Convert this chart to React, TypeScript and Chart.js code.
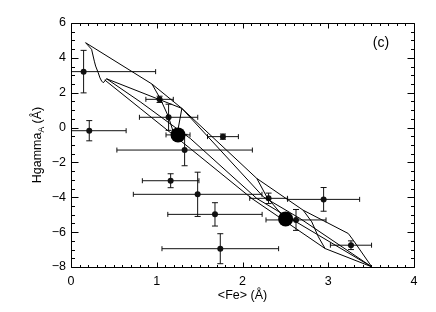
import React, { useEffect, useRef } from "react";
import { Chart, registerables } from "chart.js";

Chart.register(...registerables);

const FONT = "'Liberation Sans', Arial, Helvetica, sans-serif";

// axis ranges / tick labels
const xRange = [0, 4];
const yRange = [-8, 6];
const xMajorStep = 1;
const xMinorStep = 0.1;
const yMajorStep = 2;
const yMinorStep = 0.5;

// observed points with errors
const obsFe = [0.147, 0.213, 1.033, 1.138, 1.325, 1.772, 1.162, 1.477, 1.679, 1.741, 2.304, 2.946, 2.624, 3.265];
const obsFeErr = [0.84, 0.43, 0.16, 0.34, 0.79, 0.18, 0.33, 0.75, 0.55, 0.68, 0.22, 0.42, 0.35, 0.24];
const obsHg = [3.21, -0.18, 1.62, 0.59, -1.29, -0.52, -3.05, -3.83, -4.98, -6.95, -4.06, -4.12, -5.3, -6.75];
const obsHgErr = [1.22, 0.58, 0.18, 0.75, 0.9, 0.15, 0.4, 1.27, 0.67, 0.86, 0.3, 0.68, 0.6, 0.25];

// mean points (large dots)
const meanFe = [1.248, 2.503];
const meanHg = [-0.42, -5.24];
const meanFeErr = [0.14, 0.0];

// model grid lines
const trackUpper = [[0.17, 4.87], [0.944, 2.5], [1.293, 1.1], [2.167, -2.92], [2.707, -4.74], [3.234, -6.08], [3.293, -6.47], [3.507, -7.99]];
const youngAge = [[0.17, 4.87], [0.24, 4.49], [0.272, 3.81], [0.287, 3.53], [0.318, 3.14], [0.338, 2.85], [0.357, 2.67], [0.377, 2.57], [0.415, 2.8]];
const track2 = [[0.415, 2.8], [1.293, 1.1], [2.244, -3.98], [2.672, -5.22], [3.507, -7.99]];
const track3 = [[0.415, 2.8], [0.807, 1.48], [1.39, -0.62], [2.167, -4.07], [3.507, -7.99]];
const track4 = [[0.394, 2.73], [0.807, 1.1], [1.39, -1.2], [2.109, -4.07], [2.963, -6.94], [3.507, -7.99]];
const age2 = [[0.944, 2.5], [1.04, 1.67], [1.137, 0.62], [1.204, -0.43]];
const age3 = [[1.293, 1.1], [1.247, -0.14]];
const age4 = [[2.167, -2.92], [2.283, -3.98], [2.462, -5.02]];
const age5 = [[2.707, -4.74], [2.808, -5.41], [2.885, -6.27], [2.963, -6.94]];

const modelLines = [trackUpper, youngAge, track2, track3, track4, age2, age3, age4, age5];

const fmt = (v: number) => (v < 0 ? "\u2212" + Math.abs(v) : String(v));

const framePlugin = {
  id: "frame",
  beforeDatasetsDraw(chart: any) {
    const { ctx, chartArea: a, scales } = chart;
    const xs = scales.x, ys = scales.y;
    ctx.save();
    ctx.beginPath();
    ctx.rect(a.left, a.top, a.right - a.left, a.bottom - a.top);
    ctx.clip();
    ctx.strokeStyle = "#111";
    ctx.lineWidth = 1;
    const capX = 2.5, capY = 3;
    const bars = (fe: number[], hg: number[], fe_e: number[], hg_e: number[]) => {
      for (let i = 0; i < fe.length; i++) {
        const px = xs.getPixelForValue(fe[i]);
        const py = ys.getPixelForValue(hg[i]);
        if (fe_e[i] > 0) {
          const x1 = xs.getPixelForValue(fe[i] - fe_e[i]);
          const x2 = xs.getPixelForValue(fe[i] + fe_e[i]);
          ctx.beginPath();
          ctx.moveTo(x1, py); ctx.lineTo(x2, py);
          ctx.moveTo(x1, py - capX); ctx.lineTo(x1, py + capX);
          ctx.moveTo(x2, py - capX); ctx.lineTo(x2, py + capX);
          ctx.stroke();
        }
        if (hg_e[i] > 0) {
          const y1 = ys.getPixelForValue(hg[i] - hg_e[i]);
          const y2 = ys.getPixelForValue(hg[i] + hg_e[i]);
          ctx.beginPath();
          ctx.moveTo(px, y1); ctx.lineTo(px, y2);
          ctx.moveTo(px - capY, y1); ctx.lineTo(px + capY, y1);
          ctx.moveTo(px - capY, y2); ctx.lineTo(px + capY, y2);
          ctx.stroke();
        }
      }
    };
    bars(obsFe, obsHg, obsFeErr, obsHgErr);
    bars(meanFe, meanHg, meanFeErr, meanFe.map(() => 0));
    ctx.restore();
  },
  afterDraw(chart: any) {
    const { ctx, chartArea: a, scales } = chart;
    const xs = scales.x, ys = scales.y;
    ctx.save();
    ctx.strokeStyle = "#000";
    ctx.lineWidth = 1;
    const L = Math.round(a.left) + 0.5, R = Math.round(a.right) + 0.5;
    const T = Math.round(a.top) + 0.5, B = Math.round(a.bottom) + 0.5;
    ctx.beginPath();
    ctx.rect(L, T, R - L, B - T);
    ctx.stroke();
    ctx.beginPath();
    const nx = Math.round((xRange[1] - xRange[0]) / xMinorStep);
    for (let i = 0; i <= nx; i++) {
      const v = xRange[0] + i * xMinorStep;
      const major = i % Math.round(xMajorStep / xMinorStep) === 0;
      const len = major ? 5 : 2.5;
      const p = Math.round(xs.getPixelForValue(v)) + 0.5;
      ctx.moveTo(p, B); ctx.lineTo(p, B - len);
      ctx.moveTo(p, T); ctx.lineTo(p, T + len);
    }
    const ny = Math.round((yRange[1] - yRange[0]) / yMinorStep);
    for (let i = 0; i <= ny; i++) {
      const v = yRange[0] + i * yMinorStep;
      const major = i % Math.round(yMajorStep / yMinorStep) === 0;
      const len = major ? 7 : 3.5;
      const p = Math.round(ys.getPixelForValue(v)) + 0.5;
      ctx.moveTo(L, p); ctx.lineTo(L + len, p);
      ctx.moveTo(R, p); ctx.lineTo(R - len, p);
    }
    ctx.stroke();

    // titles
    ctx.fillStyle = "#000";
    ctx.font = `12.5px ${FONT}`;
    ctx.textAlign = "center";
    ctx.textBaseline = "middle";
    ctx.fillText("<Fe> (\u00C5)", (a.left + a.right) / 2, 296);

    // y title with subscript
    ctx.save();
    ctx.translate(36, (a.top + a.bottom) / 2);
    ctx.rotate(-Math.PI / 2);
    const p1 = "Hgamma", sub = "A", p2 = " (\u00C5)";
    ctx.font = `12.5px ${FONT}`;
    const w1 = ctx.measureText(p1).width;
    const w3 = ctx.measureText(p2).width;
    ctx.font = `8.5px ${FONT}`;
    const w2 = ctx.measureText(sub).width;
    const total = w1 + w2 + w3;
    let x0 = -total / 2;
    ctx.textAlign = "left";
    ctx.textBaseline = "alphabetic";
    ctx.font = `12.5px ${FONT}`;
    ctx.fillText(p1, x0, 4.5);
    ctx.font = `8.5px ${FONT}`;
    ctx.fillText(sub, x0 + w1, 7.5);
    ctx.font = `12.5px ${FONT}`;
    ctx.fillText(p2, x0 + w1 + w2, 4.5);
    ctx.restore();

    ctx.font = `14px ${FONT}`;
    ctx.textAlign = "center";
    ctx.textBaseline = "middle";
    ctx.fillText("(c)", 381, 43);
    ctx.restore();
  },
};

export default function App() {
  const ref = useRef<HTMLCanvasElement | null>(null);
  useEffect(() => {
    if (!ref.current) return;
    const lineSets = modelLines.map((ln) => ({
      type: "scatter" as const,
      data: ln.map(([x, y]) => ({ x, y })),
      showLine: true,
      borderColor: "#000",
      borderWidth: 1,
      pointRadius: 0,
      tension: 0,
      fill: false,
    }));
    const chart = new Chart(ref.current, {
      type: "scatter",
      data: {
        datasets: [
          ...lineSets,
          {
            data: obsFe.map((x, i) => ({ x, y: obsHg[i] })),
            pointRadius: 3,
            pointBackgroundColor: "#111",
            pointBorderColor: "#111",
            pointBorderWidth: 0,
            showLine: false,
          },
          {
            data: meanFe.map((x, i) => ({ x, y: meanHg[i] })),
            pointRadius: 7.5,
            pointBackgroundColor: "#000",
            pointBorderColor: "#000",
            pointBorderWidth: 0,
            showLine: false,
          },
        ] as any,
      },
      options: {
        animation: false,
        responsive: false,
        events: [],
        layout: { padding: { top: 23, right: 22, left: 0, bottom: 0 } },
        plugins: { legend: { display: false }, tooltip: { enabled: false }, title: { display: false } },
        scales: {
          x: {
            type: "linear",
            min: xRange[0],
            max: xRange[1],
            grid: { display: false, drawTicks: false },
            border: { display: false },
            ticks: {
              stepSize: xMajorStep,
              padding: 7,
              color: "#000",
              font: { family: FONT, size: 12.5 },
              callback: (v: any) => fmt(Number(v)),
              maxRotation: 0,
            },
            afterFit: (s: any) => { s.height = 45; },
          },
          y: {
            type: "linear",
            min: yRange[0],
            max: yRange[1],
            grid: { display: false, drawTicks: false },
            border: { display: false },
            ticks: {
              stepSize: yMajorStep,
              padding: 5,
              color: "#000",
              font: { family: FONT, size: 12.5 },
              callback: (v: any) => fmt(Number(v)),
            },
            afterFit: (s: any) => { s.width = 71; },
          },
        },
      } as any,
      plugins: [framePlugin],
    });
    return () => chart.destroy();
  }, []);
  return (
    <div style={{ position: "fixed", left: 0, top: 0, width: 436, height: 312, background: "#fff" }}>
      <canvas ref={ref} width={436} height={312} style={{ width: 436, height: 312, display: "block" }} />
    </div>
  );
}
